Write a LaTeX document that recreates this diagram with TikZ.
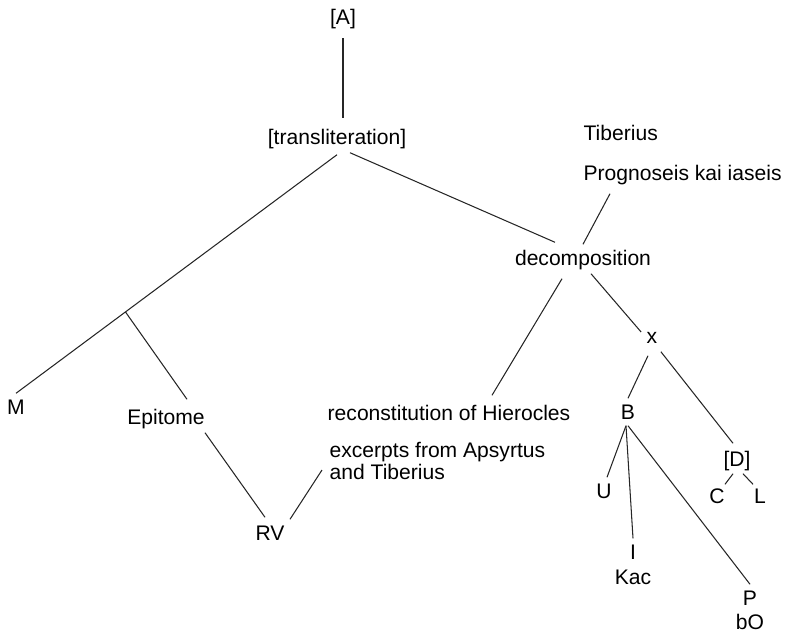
\documentclass[tikz,border=0pt]{standalone}
\usepackage{fontspec}
\setmainfont{Liberation Sans}
\usepackage{tikz}
\usetikzlibrary{positioning}

\begin{document}
\begin{tikzpicture}[x=0.02cm, y=-0.02cm,
    font=\fontsize{12}{14}\selectfont,
    lbl/.style={inner sep=3pt, text height=9pt, text depth=2.5pt},
    link/.style={line width=0.6pt, black!85}]

    \useasboundingbox (0,0) rectangle (788,637);

    % upper part of the tree
    \node[lbl] (a)     at (343,19)  {[A]};
    \node[lbl] (trans) at (337,139) {[transliteration]};
    \node[lbl, anchor=west] (tib)  at (578,135) {Tiberius};
    \node[lbl, anchor=west] (prog) at (578,175) {Prognoseis kai iaseis};
    \node[lbl] (dec)   at (583,260) {decomposition};

    % left branch
    \node[lbl] (m)     at (16,409)  {M};
    \node[lbl] (epi)   at (166,419) {Epitome};
    \node[lbl] (rv)    at (270,535) {RV};
    \node[lbl] (rec)   at (449,415) {reconstitution of Hierocles};
    \node[lbl, anchor=west] (exc)  at (324,452) {excerpts from Apsyrtus};
    \node[lbl, anchor=west] (exc2) at (324,474) {and Tiberius};

    % right branch
    \node[lbl] (x)     at (652,338) {x};
    \node[lbl] (b)     at (628,414) {B};
    \node[lbl] (u)     at (604,493) {U};
    \node[lbl] (i)     at (633,554) {I};
    \node[lbl] (kac)   at (633,579) {Kac};
    \node[lbl] (p)     at (750,600) {P};
    \node[lbl] (bo)    at (750,624) {bO};
    \node[lbl] (d)     at (737,461) {[D]};
    \node[lbl] (c)     at (717,498) {C};
    \node[lbl] (l)     at (760,498) {L};

    \draw[link, shorten <=2pt, shorten >=3pt] (a.south) -- (a.south |- trans.north);
    \draw[link] (trans.south) -- coordinate[pos=0.659] (br) (m.north);
    \draw[link] (br) -- ([shift={(21,-4)}]epi.north);
    \draw[link] ([shift={(39,-2)}]epi.south) -- ([shift={(-5,-2)}]rv.north);
    \draw[link] ([shift={(20,0)}]rv.north) -- ([shift={(-2,-4)}]exc2.west);

    \draw[link] ([shift={(13,-2)}]trans.south) -- ([shift={(-28,-2)}]dec.north);
    \draw[link] ([shift={(32,3)}]prog.south west) -- (dec.north);
    \draw[link] ([shift={(-21,3)}]dec.south) -- ([shift={(43,-4)}]rec.north);
    \draw[link] ([shift={(8,-2)}]dec.south) -- ([shift={(0,-6)}]x.west);

    \draw[link] ([shift={(-4,2)}]x.south) -- (b.north);
    \draw[link] ([shift={(-2,-2)}]x.south east) -- ([shift={(-4,-2)}]d.north);
    \draw[link] ([shift={(-2,-4)}]b.south) -- ([shift={(3,0)}]u.north);
    \draw[link] ([shift={(-2,-4)}]b.south) -- (i.north);
    \draw[link] ([shift={(0,-4)}]b.south) -- (p.north);
    \draw[link] ([shift={(-4,-3)}]d.south) -- ([shift={(8,2)}]c.north);
    \draw[link] ([shift={(6,-3)}]d.south) -- ([shift={(-7,2)}]l.north);
  \end{tikzpicture}
\end{document}
